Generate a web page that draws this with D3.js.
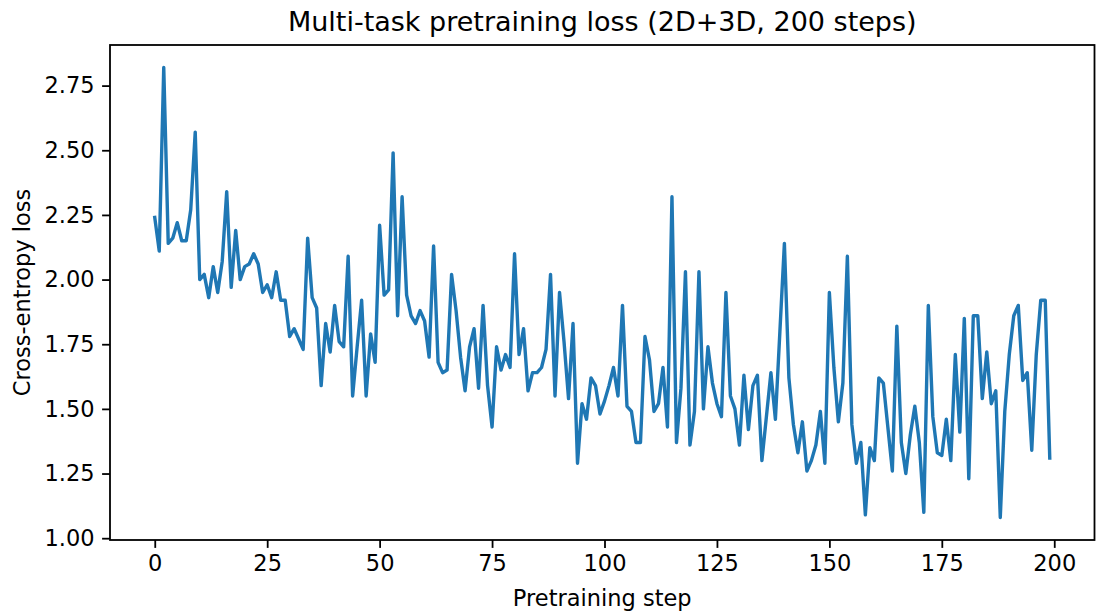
<!DOCTYPE html>
<html>
<head>
<meta charset="utf-8">
<script src="https://cdn.jsdelivr.net/npm/d3@7"></script>
<style>
  html, body { margin: 0; padding: 0; background: #fff; overflow: hidden; }
  svg { display: block; font-family: "DejaVu Sans", sans-serif; }
  .axis line { stroke: #000; stroke-width: 1.8; }
  .axis text { font-size: 22.5px; fill: #000; font-family: "DejaVu Sans", sans-serif; }
</style>
</head>
<body>
<div id="chart"></div>
<script>
// loss per pretraining step
const losses = [
  2.24, 2.11, 2.82, 2.14, 2.16, 2.22, 2.15, 2.15, 2.27, 2.57,
  2.00, 2.02, 1.93, 2.05, 1.95, 2.07, 2.34, 1.97, 2.19, 2.00,
  2.05, 2.06, 2.10, 2.06, 1.95, 1.98, 1.93, 2.03, 1.92, 1.92,
  1.78, 1.81, 1.77, 1.73, 2.16, 1.93, 1.89, 1.59, 1.83, 1.72,
  1.90, 1.76, 1.74, 2.09, 1.55, 1.74, 1.92, 1.55, 1.79, 1.68,
  2.21, 1.94, 1.96, 2.49, 1.86, 2.32, 1.94, 1.86, 1.83, 1.88,
  1.84, 1.70, 2.13, 1.68, 1.64, 1.65, 2.02, 1.88, 1.70, 1.57,
  1.74, 1.81, 1.58, 1.90, 1.59, 1.43, 1.74, 1.65, 1.71, 1.66,
  2.10, 1.71, 1.81, 1.57, 1.64, 1.64, 1.66, 1.73, 2.02, 1.55,
  1.95, 1.76, 1.54, 1.83, 1.29, 1.52, 1.46, 1.62, 1.59, 1.48,
  1.53, 1.59, 1.66, 1.55, 1.90, 1.51, 1.49, 1.37, 1.37, 1.78,
  1.69, 1.49, 1.52, 1.66, 1.43, 2.32, 1.37, 1.58, 2.03, 1.36,
  1.49, 2.03, 1.50, 1.74, 1.60, 1.52, 1.47, 1.95, 1.55, 1.50,
  1.36, 1.63, 1.42, 1.59, 1.63, 1.30, 1.47, 1.64, 1.46, 1.80,
  2.14, 1.62, 1.44, 1.33, 1.45, 1.26, 1.30, 1.36, 1.49, 1.29,
  1.95, 1.66, 1.45, 1.60, 2.09, 1.44, 1.29, 1.37, 1.09, 1.35,
  1.30, 1.62, 1.60, 1.43, 1.26, 1.82, 1.37, 1.25, 1.40, 1.51,
  1.37, 1.10, 1.90, 1.47, 1.33, 1.32, 1.46, 1.30, 1.71, 1.41,
  1.85, 1.23, 1.86, 1.86, 1.54, 1.72, 1.52, 1.57, 1.08, 1.49,
  1.71, 1.86, 1.90, 1.61, 1.64, 1.34, 1.71, 1.92, 1.92, 1.31
];
const steps = losses.map((d, i) => i);
const xTicks = [0, 25, 50, 75, 100, 125, 150, 175, 200];
const yTicks = [1.00, 1.25, 1.50, 1.75, 2.00, 2.25, 2.50, 2.75];

const W = 1096, H = 615;
const margin = { top: 45, right: 1.5, bottom: 75, left: 110 };
const width = W - margin.left - margin.right;
const height = H - margin.top - margin.bottom;

const svg = d3.select('#chart').append('svg')
  .attr('width', W)
  .attr('height', H);

// matplotlib-like 5% padding on data limits
const xMin = d3.min(steps), xMax = d3.max(steps);
const xPad = (xMax - xMin) * 0.05;
const [yMin, yMax] = d3.extent(losses);
const yPad = (yMax - yMin) * 0.05;

const xScale = d3.scaleLinear()
  .domain([xMin - xPad, xMax + xPad])
  .range([0, width]);

const yScale = d3.scaleLinear()
  .domain([yMin - yPad, yMax + yPad])
  .range([height, 0]);

const g = svg.append('g').attr('transform', `translate(${margin.left}, ${margin.top})`);

const line = d3.line()
  .x((d, i) => xScale(steps[i]))
  .y(d => yScale(d));

g.append('path')
  .datum(losses)
  .attr('fill', 'none')
  .attr('stroke', '#1f77b4')
  .attr('stroke-width', 3.4)
  .attr('stroke-linejoin', 'round')
  .attr('stroke-linecap', 'square')
  .attr('d', line);

// axes
g.append('g')
  .attr('class', 'axis axis--x')
  .attr('transform', `translate(0, ${height})`)
  .call(d3.axisBottom(xScale).tickValues(xTicks).tickSize(7.9).tickPadding(7.5).tickSizeOuter(0))
  .call(a => a.select('.domain').remove());

g.append('g')
  .attr('class', 'axis axis--y')
  .call(d3.axisLeft(yScale).tickValues(yTicks).tickFormat(d3.format('.2f')).tickSize(7.9).tickPadding(7.5).tickSizeOuter(0))
  .call(a => a.select('.domain').remove());

// frame
g.append('rect')
  .attr('x', 0).attr('y', 0)
  .attr('width', width).attr('height', height)
  .attr('fill', 'none')
  .attr('stroke', '#000')
  .attr('stroke-width', 1.8);

// labels
svg.append('text')
  .attr('x', margin.left + width / 2)
  .attr('y', 31)
  .attr('text-anchor', 'middle')
  .style('font-size', '27px')
  .text('Multi-task pretraining loss (2D+3D, 200 steps)');

svg.append('text')
  .attr('x', margin.left + width / 2)
  .attr('y', 606)
  .attr('text-anchor', 'middle')
  .style('font-size', '22.5px')
  .text('Pretraining step');

svg.append('text')
  .attr('transform', `translate(30, ${margin.top + height / 2}) rotate(-90)`)
  .attr('text-anchor', 'middle')
  .style('font-size', '22.5px')
  .text('Cross-entropy loss');
</script>
</body>
</html>
